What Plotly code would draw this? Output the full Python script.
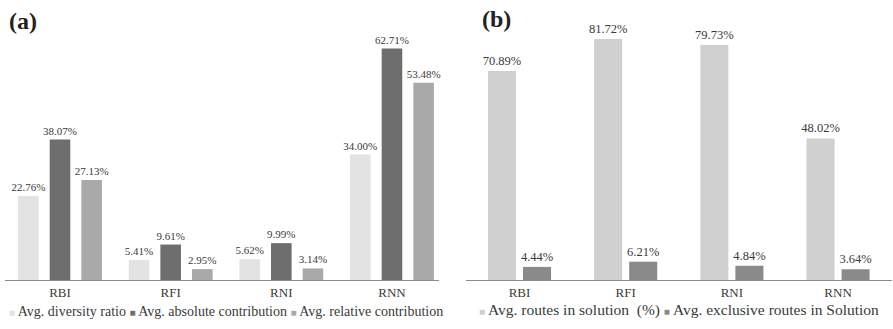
import plotly.graph_objects as go

# ---- data ----
heuristics = ["RBI", "RFI", "RNI", "RNN"]
diversity_ratio = [22.76, 5.41, 5.62, 34.00]
absolute_contribution = [38.07, 9.61, 9.99, 62.71]
relative_contribution = [27.13, 2.95, 3.14, 53.48]
routes_in_solution = [70.89, 81.72, 79.73, 48.02]
exclusive_routes = [4.44, 6.21, 4.84, 3.64]

series_a_names = ["Avg. diversity ratio", "Avg. absolute contribution", "Avg. relative contribution"]
series_b_names = ["Avg. routes in solution  (%)", "Avg. exclusive routes in Solution"]

colors_a = ["#e3e3e3", "#6e6e6e", "#a9a9a9"]
colors_b = ["#d0d0d0", "#8a8a8a"]

W, H = 893, 329
SERIF = "Liberation Serif"
TXT = "#3a3a3a"

px = lambda v: v / W
py = lambda v: (H - v) / H

fig = go.Figure()

slot_a, bw_a = 0.286, 0.186
for i, (name, vals, col) in enumerate(zip(series_a_names,
                           [diversity_ratio, absolute_contribution, relative_contribution],
                           colors_a)):
    fig.add_trace(go.Bar(
        x=heuristics, y=vals, name=name, marker_color=col, marker_line_width=0,
        width=bw_a, offset=(i - 1) * slot_a - bw_a / 2,
        texttemplate="%{y:.2f}%", textposition="outside", constraintext="none",
        cliponaxis=False, textfont=dict(family=SERIF, size=11, color=TXT),
        xaxis="x", yaxis="y", showlegend=False,
    ))

slot_b, bw_b = 0.33, 0.264
for i, (name, vals, col) in enumerate(zip(series_b_names, [routes_in_solution, exclusive_routes], colors_b)):
    fig.add_trace(go.Bar(
        x=heuristics, y=vals, name=name, marker_color=col, marker_line_width=0,
        width=bw_b, offset=(i - 0.5) * slot_b - bw_b / 2,
        texttemplate="%{y:.2f}%", textposition="outside", constraintext="none",
        cliponaxis=False, textfont=dict(family=SERIF, size=12.5, color=TXT),
        xaxis="x2", yaxis="y2", showlegend=False,
    ))

axis_common = dict(showgrid=False, zeroline=False, showline=True, linecolor="#8c8c8c",
                   linewidth=1, ticks="", tickfont=dict(family=SERIF, size=13, color=TXT),
                   fixedrange=True)
yaxis_common = dict(showgrid=False, zeroline=False, showline=False, showticklabels=False,
                    ticks="", fixedrange=True)

fig.update_layout(
    width=W, height=H, margin=dict(l=0, r=0, t=0, b=0),
    paper_bgcolor="white", plot_bgcolor="white",
    barmode="overlay",
    xaxis=dict(domain=[px(5), px(439)], range=[-0.497, 3.425], anchor="y", **axis_common),
    yaxis=dict(domain=[py(280), py(20)], range=[0, 70.46], anchor="x", **yaxis_common),
    xaxis2=dict(domain=[px(466), px(892)], range=[-0.504, 3.508], anchor="y2", **axis_common),
    yaxis2=dict(domain=[py(280), py(20)], range=[0, 88.2], anchor="x2", **yaxis_common),
    showlegend=False,
    font=dict(family=SERIF, color=TXT),
)

def legend_text(names, cols, sq=10):
    parts = []
    for n, c in zip(names, cols):
        parts.append(f"<span style='color:{c};font-size:{sq}px'>■</span> {n}")
    return " ".join(parts)

annotations = [
    dict(text="<b>(a)</b>", x=px(7), y=py(21), xref="paper", yref="paper",
         xanchor="left", yanchor="middle", showarrow=False,
         font=dict(family=SERIF, size=24, color="#222")),
    dict(text="<b>(b)</b>", x=px(480), y=py(19), xref="paper", yref="paper",
         xanchor="left", yanchor="middle", showarrow=False,
         font=dict(family=SERIF, size=24, color="#222")),
    dict(text=legend_text(series_a_names, colors_a), x=px(7), y=py(311),
         xref="paper", yref="paper", xanchor="left", yanchor="middle", showarrow=False,
         font=dict(family=SERIF, size=14, color=TXT)),
    dict(text=legend_text(series_b_names, colors_b), x=px(477), y=py(310),
         xref="paper", yref="paper", xanchor="left", yanchor="middle", showarrow=False,
         font=dict(family=SERIF, size=15.5, color=TXT)),
]
fig.update_layout(annotations=annotations)

fig.write_html("out.html", config={"displayModeBar": False},
               post_script="document.body.style.margin='0';document.body.style.overflow='hidden';")
